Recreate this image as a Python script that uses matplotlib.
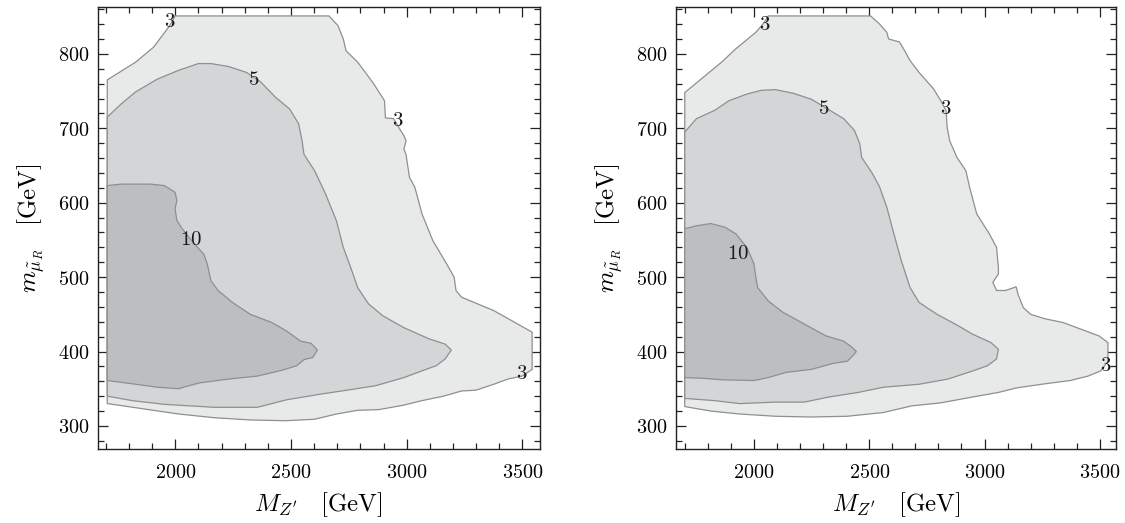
import matplotlib
matplotlib.use("Agg")
import matplotlib.pyplot as plt
from matplotlib.ticker import MultipleLocator, FuncFormatter

plt.rcParams['mathtext.fontset'] = 'cm'
plt.rcParams['font.family'] = ['DejaVu Serif']

# ---------------- Left panel contour boundaries (M_Z' [GeV], m_mu [GeV]) -------------
left_c3_x = [1706, 1829, 1906, 1976, 1999, 2664, 2703, 2726, 2738, 2788, 2857, 2904, 2908, 2943,
             2966, 2988, 2997, 2988, 2997, 3012, 3035, 3066, 3113, 3174, 3205, 3213, 3237, 3376,
             3468, 3542, 3542, 3499, 3437, 3376, 3299, 3237, 3159, 3066, 2988, 2881, 2788, 2696,
             2602, 2479, 2324, 2170, 2015, 1861, 1752, 1706]
left_c3_y = [765, 789, 809, 838, 851, 851, 838, 820, 804, 789, 760, 737, 714, 713,
             701, 690, 683, 672, 665, 634, 621, 585, 549, 517, 500, 482, 473, 455,
             439, 426, 376, 367, 363, 356, 348, 347, 340, 334, 328, 322, 321, 316,
             309, 307, 308, 311, 316, 323, 328, 330]

left_c5_x = [1706, 1767, 1829, 1922, 2015, 2100, 2154, 2231, 2308, 2370, 2432, 2494, 2533, 2548,
             2556, 2602, 2649, 2696, 2726, 2758, 2788, 2835, 2897, 2988, 3097, 3166, 3193, 3166,
             3128, 3066, 2988, 2865, 2741, 2633, 2479, 2355, 2170, 1953, 1814, 1706]
left_c5_y = [715, 733, 749, 766, 778, 787, 787, 783, 775, 762, 742, 726, 706, 683,
             665, 643, 612, 576, 540, 513, 486, 464, 448, 432, 417, 410, 402, 390,
             381, 374, 365, 354, 348, 343, 335, 325, 325, 329, 334, 340]

left_c10_x = [1706, 1767, 1891, 1953, 1999, 2007, 1999, 2007, 2030, 2084, 2123, 2138, 2154, 2185,
              2247, 2324, 2417, 2479, 2541, 2587, 2614, 2594, 2556, 2525, 2463, 2355, 2231, 2108,
              2046, 2015, 1922, 1829, 1706]
left_c10_y = [623, 625, 625, 623, 614, 603, 592, 576, 565, 544, 531, 518, 495, 482,
              466, 450, 439, 428, 414, 411, 402, 392, 389, 381, 375, 367, 363, 358,
              353, 350, 352, 356, 361]

left_label_text = ['3', '5', '3', '10', '3']
left_label_x = [1976, 2337, 2961, 2069, 3499]
left_label_y = [843, 765, 711, 550, 370]

# ---------------- Right panel contour boundaries -------------
right_c3_x = [1700, 1782, 1860, 1922, 1969, 2008, 2039, 2062, 2506, 2545, 2576, 2584, 2631, 2654,
              2677, 2716, 2779, 2810, 2833, 2838, 2849, 2880, 2919, 2935, 2966, 3021, 3052, 3060,
              3060, 3036, 3052, 3091, 3137, 3145, 3168, 3200, 3262, 3340, 3418, 3496, 3535, 3535,
              3504, 3449, 3371, 3247, 3137, 3060, 2950, 2810, 2685, 2561, 2405, 2249, 2093, 1938,
              1813, 1700]
right_c3_y = [748, 769, 789, 807, 819, 829, 840, 851, 851, 840, 829, 820, 816, 804,
              791, 775, 753, 737, 724, 701, 683, 661, 643, 621, 585, 558, 540, 513,
              504, 493, 482, 482, 487, 477, 459, 450, 444, 439, 430, 421, 412, 387,
              374, 367, 361, 356, 351, 345, 339, 331, 327, 318, 313, 312, 313, 316,
              320, 326]

right_c5_x = [1700, 1751, 1829, 1891, 1969, 2031, 2093, 2171, 2249, 2319, 2389, 2436, 2459, 2467,
              2514, 2545, 2576, 2607, 2639, 2677, 2716, 2794, 2872, 2950, 3028, 3060, 3052, 3013,
              2950, 2841, 2716, 2561, 2452, 2327, 2218, 2093, 1938, 1829, 1700]
right_c5_y = [695, 713, 724, 737, 746, 751, 752, 747, 739, 726, 713, 697, 679, 661,
              639, 621, 594, 558, 522, 486, 466, 450, 437, 423, 412, 403, 390, 381,
              374, 363, 356, 352, 345, 339, 332, 332, 330, 334, 337]

right_c10_x = [1700, 1751, 1813, 1875, 1922, 1969, 2000, 2008, 2016, 2062, 2124, 2218, 2312, 2389,
               2428, 2444, 2428, 2405, 2343, 2249, 2140, 2062, 2000, 1860, 1782, 1700]
right_c10_y = [565, 569, 572, 567, 558, 540, 518, 500, 486, 468, 453, 437, 421, 414,
               405, 400, 394, 387, 384, 376, 372, 365, 361, 362, 364, 365]

right_label_text = ['3', '5', '3', '10', '3']
right_label_x = [2048, 2301, 2833, 1933, 3524]
right_label_y = [839, 727, 726, 532, 381]

fill_colors = ['#e8e9e9', '#d4d5d6', '#bdbec0']
edge_color = '#8e8f90'

fig = plt.figure(figsize=(11.25, 5.23), dpi=100)
ax1 = fig.add_axes([0.0867, 0.1415, 0.3933, 0.8451])
ax2 = fig.add_axes([0.6009, 0.1415, 0.3911, 0.8451])

panels = [
    (ax1, [(left_c3_x, left_c3_y), (left_c5_x, left_c5_y), (left_c10_x, left_c10_y)],
     (left_label_text, left_label_x, left_label_y), (1664, 3576)),
    (ax2, [(right_c3_x, right_c3_y), (right_c5_x, right_c5_y), (right_c10_x, right_c10_y)],
     (right_label_text, right_label_x, right_label_y), (1662, 3570)),
]

fmt = FuncFormatter(lambda v, p: r'$%d$' % int(round(v)))

for ax, polys, labels, xl in panels:
    for (px, py), fc in zip(polys, fill_colors):
        ax.fill(px, py, facecolor=fc, edgecolor=edge_color, linewidth=0.9, zorder=2)
    for t, lx, ly in zip(*labels):
        ax.text(lx, ly, r'$%s$' % t, fontsize=15, ha='center', va='center', zorder=4,
                color='#1a1a1a')
    ax.set_xlim(*xl)
    ax.set_ylim(269, 863)
    ax.xaxis.set_major_locator(MultipleLocator(500))
    ax.xaxis.set_minor_locator(MultipleLocator(100))
    ax.yaxis.set_major_locator(MultipleLocator(100))
    ax.yaxis.set_minor_locator(MultipleLocator(20))
    ax.xaxis.set_major_formatter(fmt)
    ax.yaxis.set_major_formatter(fmt)
    ax.tick_params(which='both', direction='in', top=True, right=True, labelsize=14.5,
                   color='#222222', width=0.9)
    ax.tick_params(which='major', length=7)
    ax.tick_params(which='minor', length=4)
    ax.tick_params(axis='x', which='major', pad=10)
    ax.tick_params(axis='y', which='major', pad=6)
    for s in ax.spines.values():
        s.set_linewidth(1.0)
        s.set_color('#222222')
    ax.set_xlabel(r"$M_{Z^{\prime}}\quad[\mathrm{GeV}]$", fontsize=18, labelpad=6)
    ax.set_ylabel(r"$m_{\tilde{\mu}_R}\quad[\mathrm{GeV}]$", fontsize=18, labelpad=8)

fig.savefig('out.png', dpi=100)
